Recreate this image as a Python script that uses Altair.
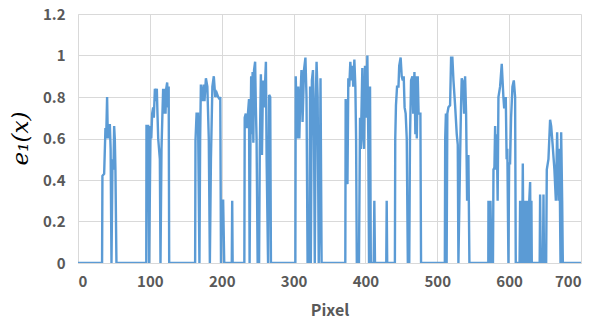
import altair as alt
import pandas as pd

# Pixel positions (x) and e1(x) values, cluster by cluster
px_c1 = [0, 33.5, 34, 36.4, 38.2, 39.2, 40.5, 41.5, 42.3, 43.3, 44.3, 45.4, 46.6, 48, 49.4, 50.3, 51.2, 52.1, 53.5]
e1_c1 = [0, 0, 0.42, 0.43, 0.65, 0.6, 0.80, 0.6, 0.67, 0.6, 0.67, 0.55, 0, 0.5, 0.45, 0.66, 0.6, 0.45, 0]

px_c2 = [95, 95.3, 97.6, 99, 101, 102, 103.2, 104.6, 105.5, 107, 108.3, 109.7, 110.6, 111.6, 113.9, 114.8, 116.2, 117.5, 118.5, 119.9, 120.8, 121.8, 122.8, 124.1, 125.5, 126.2, 126.9]
e1_c2 = [0, 0.66, 0.66, 0, 0.66, 0.6, 0.72, 0.75, 0.7, 0.84, 0.78, 0.84, 0.72, 0.6, 0.5, 0, 0.55, 0.72, 0.84, 0.72, 0.84, 0.72, 0.84, 0.87, 0.75, 0.85, 0]

px_c3 = [163, 163.5, 165, 167, 169, 170, 171, 173, 175, 176, 178, 180, 182, 183.5, 185, 187, 189, 191, 193, 195, 197, 198, 199, 200, 202, 203.5, 214, 214.6, 215.2]
e1_c3 = [0, 0.59, 0.72, 0.72, 0, 0.6, 0.86, 0.78, 0.86, 0.78, 0.89, 0.85, 0.6, 0, 0.5, 0.85, 0.9, 0.8, 0.82, 0.8, 0.79, 0.8, 0, 0.3, 0.3, 0, 0, 0.3, 0]

px_c4 = [231.5, 232, 233.5, 235, 236.5, 238, 238.8, 240, 241, 242, 243, 244, 245, 246.5, 247.5, 248.5, 250, 252, 253, 254.5, 256, 257.5, 259, 261.5, 262.5, 264.5, 266, 267.5, 268.5]
e1_c4 = [0, 0.7, 0.72, 0.65, 0.72, 0.79, 0, 0.6, 0.9, 0.62, 0.92, 0.58, 0.93, 0.97, 0.75, 0.6, 0, 0, 0.55, 0.91, 0.52, 0.88, 0.75, 0.97, 0.5, 0, 0.81, 0.8, 0]

px_c5 = [302.5, 303, 305, 306.5, 308, 309, 311, 312.5, 313.5, 314.5, 316.5, 318, 319.5, 322, 323, 324, 325.5, 327, 328.5, 329.5, 331, 332, 333.5, 335, 336.5, 337.5, 339]
e1_c5 = [0, 0.9, 0.6, 0.85, 0.6, 0.75, 0.93, 0.68, 0.8, 0.93, 0.99, 0.8, 0, 0, 0.85, 0, 0.88, 0.93, 0.6, 0, 0.8, 0.97, 0.8, 0, 0.3, 0.89, 0]

px_c6 = [372, 372.5, 374, 375, 376.2, 377.5, 379, 380.5, 382, 383, 384.6, 386, 387, 388, 391, 392.5, 393.5, 395.7, 397, 398, 399.4, 400.5, 402.7, 404, 405, 406.4, 407.5, 411.5, 412.4, 413.3, 429, 429.6, 430.3]
e1_c6 = [0, 0.79, 0.5, 0.38, 0.89, 0.85, 0.97, 0.88, 0.95, 0.85, 0.98, 0.85, 0.6, 0, 0, 0.7, 0.55, 0.94, 0.6, 0.55, 0.95, 0.7, 1.0, 0.6, 0, 0.85, 0, 0, 0.3, 0, 0, 0.3, 0]

px_c7 = [441, 441.5, 442.5, 444, 446, 447, 449, 450.5, 452, 453.3, 454.5, 456, 457.5, 459, 461, 462, 463.5, 465.4, 466.5, 468.2, 469.5, 470.5, 471.5, 472.8, 474, 476.5, 477.4]
e1_c7 = [0, 0.6, 0.76, 0.85, 0.85, 0.95, 0.99, 0.9, 0.88, 0.9, 0.75, 0.72, 0.6, 0, 0, 0.6, 0.88, 0.9, 0.72, 0.92, 0.62, 0.9, 0.6, 0.9, 0.72, 0.72, 0]

px_c8 = [510.5, 511, 512, 513, 514, 515.5, 517.8, 519.2, 521, 522.5, 524.8, 527.1, 528.5, 529.4, 531.7, 533, 534, 535.9, 537.3, 538.7, 540.1, 541.5, 543.3, 544.7]
e1_c8 = [0, 0.6, 0.72, 0, 0.72, 0.75, 0.76, 0.99, 0.99, 0.88, 0.76, 0.62, 0.57, 0, 0.5, 0.75, 0.89, 0.87, 0.72, 0.9, 0.72, 0.3, 0.52, 0]

px_c9 = [571, 571.2, 572.5, 574, 575.5, 577.5, 578.2, 579.5, 580.5, 581.5, 582.8, 584, 585.1, 587.4, 589.7, 592, 593, 594.4, 595.3, 596.5, 597.5, 599, 600, 601.3, 602.7, 604.6, 606.5, 608.3, 609.2]
e1_c9 = [0, 0.3, 0, 0.3, 0, 0, 0.45, 0.46, 0.66, 0.45, 0.62, 0.3, 0.8, 0.85, 0.96, 0.8, 0.75, 0.75, 0.8, 0.5, 0.55, 0, 0.48, 0.48, 0.7, 0.85, 0.88, 0.8, 0]

px_c10 = [614.5, 615.3, 616, 617, 618, 619, 620, 620.8, 621.5, 622.5, 623.2, 624, 625, 626, 627, 628, 629.2, 630, 631, 631.5, 642.5, 643.1, 644, 647, 647.8, 648.5]
e1_c10 = [0, 0.3, 0, 0.3, 0, 0.48, 0, 0.3, 0, 0.3, 0, 0.3, 0, 0.3, 0, 0.3, 0.39, 0, 0.3, 0, 0, 0.33, 0, 0, 0.33, 0]

px_c11 = [651.5, 652.4, 654.7, 657, 658.5, 660.3, 663, 665, 666.8, 668.7, 670, 671.5, 672.4, 673.8, 674.7, 700]
e1_c11 = [0, 0.45, 0.5, 0.69, 0.66, 0.58, 0.45, 0.3, 0.63, 0.3, 0.55, 0, 0.63, 0.3, 0, 0]

px = px_c1 + px_c2 + px_c3 + px_c4 + px_c5 + px_c6 + px_c7 + px_c8 + px_c9 + px_c10 + px_c11
e1 = e1_c1 + e1_c2 + e1_c3 + e1_c4 + e1_c5 + e1_c6 + e1_c7 + e1_c8 + e1_c9 + e1_c10 + e1_c11

x_ticks = [0, 100, 200, 300, 400, 500, 600, 700]
y_ticks = [0, 0.2, 0.4, 0.6, 0.8, 1, 1.2]

df = pd.DataFrame({"px": px, "e1": e1, "order": list(range(len(px)))})

FONT = "Noto Sans CJK JP"
GRAY = "#595959"
GRID = "#D9D9D9"

chart = alt.Chart(df).mark_line(color="#5B9BD5", strokeWidth=2.4, clip=True).encode(
    x=alt.X("px:Q", scale=alt.Scale(domain=[0, 700], nice=False, zero=False),
            axis=alt.Axis(values=x_ticks, title="Pixel", grid=True, ticks=False,
                          labelPadding=11, titlePadding=13, format="d")),
    y=alt.Y("e1:Q", scale=alt.Scale(domain=[0, 1.2], nice=False),
            axis=alt.Axis(values=y_ticks, title="e₁(x)", grid=True, ticks=False,
                          labelPadding=13, titlePadding=10, format="~g",
                          titleY=124, titleAnchor="middle")),
    order="order:Q",
).properties(
    width=503, height=249,
    autosize=alt.AutoSizeParams(type="none"),
    padding={"left": 78, "top": 14, "right": 22, "bottom": 61},
).configure_view(stroke=None).configure_axis(
    gridColor=GRID, gridWidth=1, domainColor=GRID, domainWidth=1,
    labelColor=GRAY, labelFont=FONT, labelFontSize=15, labelFontWeight="bold",
    titleColor=GRAY, titleFont=FONT, titleFontSize=16, titleFontWeight="bold",
).configure_axisY(
    titleFont="DejaVu Serif", titleFontStyle="italic", titleFontWeight="normal",
    titleColor="#000000", titleFontSize=23,
)

chart.save("out.html", embed_options={"renderer": "svg", "actions": False})
